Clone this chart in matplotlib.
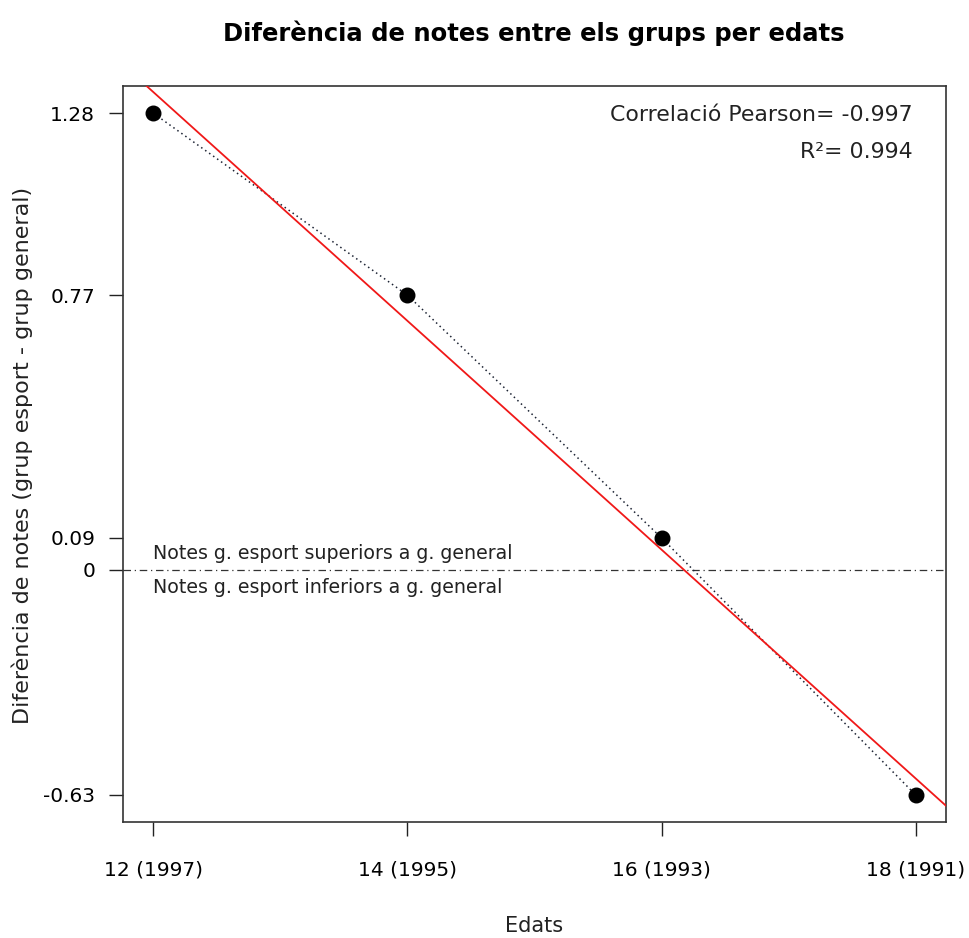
import matplotlib
matplotlib.use("Agg")
import matplotlib.pyplot as plt
import numpy as np

plt.rcParams['font.family'] = ['DejaVu Sans']

ages = [12, 14, 16, 18]
tick_labels = ["12 (1997)", "14 (1995)", "16 (1993)", "18 (1991)"]
diffs = [1.28, 0.77, 0.09, -0.63]
y_ticks = [-0.63, 0, 0.09, 0.77, 1.28]
y_tick_labels = ["-0.63", "0", "0.09", "0.77", "1.28"]

x = np.array(ages, dtype=float)
y = np.array(diffs)
slope, intercept = np.polyfit(x, y, 1)
r = np.corrcoef(x, y)[0, 1]

fig = plt.figure(figsize=(9.69, 9.38), dpi=100)
ax = fig.add_axes([123/969, 1-822/938, (946-123)/969, (822-86)/938])

xr = x.max() - x.min()
yr = y.max() - y.min()
ax.set_xlim(x.min() - 0.04*xr, x.max() + 0.04*xr)
ax.set_ylim(y.min() - 0.04*yr, y.max() + 0.04*yr)

ax.plot(x, y, linestyle=(0, (1, 2.2)), color='#1c2333', linewidth=1.1, zorder=2)
ax.scatter(x, y, s=110, color='black', zorder=4)
xx = np.array([x.min() - 1, x.max() + 1])
ax.plot(xx, intercept + slope*xx, color='#f01818', linewidth=1.3, zorder=3)
ax.axhline(0, color='#333333', linestyle=(0, (6, 3, 1, 3)), linewidth=0.9, zorder=1)

ax.text(12, 0.045, "Notes g. esport superiors a g. general", fontsize=13.7, ha='left', va='center', color='#222222')
ax.text(12, -0.05, "Notes g. esport inferiors a g. general", fontsize=13.7, ha='left', va='center', color='#222222')

ax.text(0.96, 0.9606, f"Correlació Pearson= {r:.3f}", transform=ax.transAxes, fontsize=15.8, ha='right', va='center', color='#222222')
ax.text(0.96, 0.910, f"R²= {r**2:.3f}", transform=ax.transAxes, fontsize=15.8, ha='right', va='center', color='#222222')

ax.set_xticks(ages)
ax.set_xticklabels(tick_labels, fontsize=14.5)
ax.set_yticks(y_ticks)
ax.set_yticklabels(y_tick_labels, fontsize=14.5)
ax.tick_params(length=10, width=1, color='#222222')
ax.tick_params(axis='x', pad=18)
ax.tick_params(axis='y', pad=10)
for s in ax.spines.values():
    s.set_color('#333333')
    s.set_linewidth(1.2)

fig.text(534/969, 1-33/938, "Diferència de notes entre els grups per edats", fontsize=17.5, fontweight='bold', ha='center', va='center')
fig.text(534/969, 1-926/938, "Edats", fontsize=15, ha='center', va='center', color='#222222')
fig.text(22/969, 1-455/938, "Diferència de notes (grup esport - grup general)", fontsize=16, rotation=90, ha='center', va='center', color='#222222')

fig.savefig("out.png", dpi=100)
